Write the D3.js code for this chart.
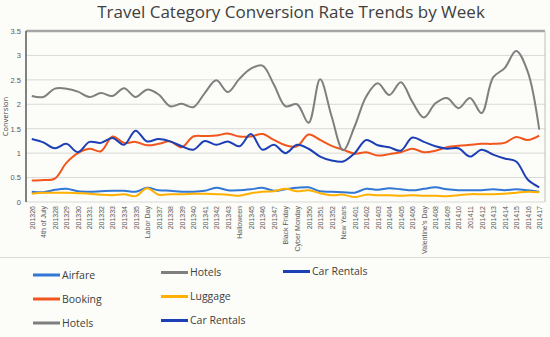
<!DOCTYPE html>
<html>
<head>
<meta charset="utf-8">
<script src="https://cdn.jsdelivr.net/npm/d3@7"></script>
<style>
  body { margin: 0; background: #fcfcf8; }
  svg { display: block; font-family: 'Open Sans', sans-serif; }
  .axis path, .axis line { stroke: none; }
  .axis text { fill: #595959; }
</style>
</head>
<body>
<svg width="550" height="337"></svg>
<script>
const weeks = ['201326', '4th of July', '201328', '201329', '201330', '201331', '201332', '201333',
  '201334', '201335', 'Labor Day', '201337', '201338', '201339', '201340', '201341', '201342',
  '201343', 'Halloween', '201345', '201346', '201347', 'Black Friday', 'Cyber Monday', '201350',
  '201351', '201352', 'New Years', '201401', '201402', '201403', '201404', '201405', '201406',
  "Valentine's Day", '201408', '201409', '201410', '201411', '201412', '201413', '201414',
  '201415', '201416', '201417'];

const airfare = [0.21, 0.20, 0.25, 0.27, 0.22, 0.21, 0.22, 0.23, 0.23, 0.21, 0.29, 0.24, 0.23,
  0.21, 0.21, 0.23, 0.29, 0.24, 0.24, 0.26, 0.29, 0.23, 0.26, 0.29, 0.30, 0.22, 0.21, 0.20,
  0.19, 0.27, 0.25, 0.28, 0.26, 0.24, 0.27, 0.30, 0.26, 0.24, 0.24, 0.24, 0.26, 0.24, 0.26,
  0.24, 0.21];
const booking = [0.44, 0.45, 0.48, 0.80, 1.00, 1.09, 1.04, 1.34, 1.21, 1.23, 1.16, 1.19, 1.24,
  1.12, 1.34, 1.35, 1.36, 1.40, 1.34, 1.34, 1.39, 1.27, 1.16, 1.14, 1.38, 1.27, 1.15, 1.07,
  0.99, 1.02, 0.95, 0.98, 1.02, 1.09, 1.02, 1.05, 1.12, 1.15, 1.17, 1.19, 1.19, 1.21, 1.33,
  1.27, 1.36];
const hotels = [2.17, 2.15, 2.32, 2.32, 2.26, 2.15, 2.23, 2.17, 2.33, 2.15, 2.30, 2.20, 1.96,
  2.01, 1.94, 2.23, 2.49, 2.25, 2.52, 2.73, 2.79, 2.40, 1.96, 2.00, 1.62, 2.51, 1.75, 1.06,
  1.55, 2.16, 2.43, 2.19, 2.45, 2.05, 1.73, 2.02, 2.13, 1.92, 2.13, 1.82, 2.55, 2.74, 3.09,
  2.67, 1.48];
const luggage = [0.17, 0.19, 0.19, 0.19, 0.18, 0.17, 0.15, 0.14, 0.16, 0.12, 0.28, 0.15, 0.16,
  0.16, 0.17, 0.17, 0.16, 0.15, 0.13, 0.18, 0.21, 0.22, 0.27, 0.22, 0.24, 0.18, 0.14, 0.15,
  0.10, 0.15, 0.14, 0.14, 0.13, 0.14, 0.13, 0.13, 0.12, 0.14, 0.16, 0.16, 0.16, 0.17, 0.19,
  0.21, 0.20];
const carRentals = [1.29, 1.22, 1.10, 1.19, 1.02, 1.23, 1.21, 1.31, 1.17, 1.46, 1.24, 1.29, 1.24,
  1.14, 1.07, 1.25, 1.17, 1.24, 1.14, 1.39, 1.07, 1.17, 1.00, 1.17, 1.09, 0.93, 0.85, 0.83,
  1.00, 1.27, 1.16, 1.12, 1.05, 1.32, 1.23, 1.14, 1.09, 1.10, 0.93, 1.07, 0.97, 0.89, 0.83,
  0.46, 0.30];

const yTicks = [0, 0.5, 1, 1.5, 2, 2.5, 3, 3.5];

const series = [
  { name: 'Airfare', values: airfare, color: '#3277d4' },
  { name: 'Booking', values: booking, color: '#f0561d' },
  { name: 'Hotels', values: hotels, color: '#7f7f7f' },
  { name: 'Luggage', values: luggage, color: '#ffb000' },
  { name: 'Car Rentals', values: carRentals, color: '#1c3fb5' }
];

// legend entries as shown (the original repeats two of them)
const legendItems = [
  { name: 'Airfare', col: 0, row: 0 },
  { name: 'Booking', col: 0, row: 1 },
  { name: 'Hotels', col: 0, row: 2 },
  { name: 'Hotels', col: 1, row: 0 },
  { name: 'Luggage', col: 1, row: 1 },
  { name: 'Car Rentals', col: 1, row: 2 },
  { name: 'Car Rentals', col: 2, row: 0 }
];

function drawChart() {
  const svg = d3.select('svg');
  const margin = { top: 31, right: 5, left: 26 };
  const plotBottom = 202;

  const x = d3.scalePoint().domain(weeks).range([margin.left, 550 - margin.right]).padding(0.5);
  const y = d3.scaleLinear().domain([0, 3.5]).range([plotBottom, margin.top]);

  // title
  svg.append('text')
    .attr('x', 291)
    .attr('y', 18)
    .attr('text-anchor', 'middle')
    .attr('font-size', 17)
    .attr('fill', '#404040')
    .text('Travel Category Conversion Rate Trends by Week');

  // gridlines
  svg.append('g')
    .selectAll('line')
    .data(yTicks)
    .enter()
    .append('line')
    .attr('x1', margin.left)
    .attr('x2', 550 - margin.right)
    .attr('y1', (d) => y(d))
    .attr('y2', (d) => y(d))
    .attr('stroke', '#d9d9d9')
    .attr('stroke-width', 1);

  // frame: top, right, left axis
  svg.append('line')
    .attr('x1', margin.left).attr('x2', 550 - margin.right)
    .attr('y1', y(3.5)).attr('y2', y(3.5))
    .attr('stroke', '#a6a6a6').attr('stroke-width', 2.5);
  svg.append('line')
    .attr('x1', 550 - margin.right).attr('x2', 550 - margin.right)
    .attr('y1', y(3.5)).attr('y2', y(0))
    .attr('stroke', '#bfbfbf').attr('stroke-width', 1);
  svg.append('line')
    .attr('x1', margin.left).attr('x2', margin.left)
    .attr('y1', y(3.5)).attr('y2', y(0))
    .attr('stroke', '#595959').attr('stroke-width', 1.5);

  // y axis
  svg.append('g')
    .attr('class', 'axis axis-y')
    .attr('transform', 'translate(' + margin.left + ',0)')
    .call(d3.axisLeft(y).tickValues(yTicks).tickFormat(d3.format('~g')).tickSize(0).tickPadding(5))
    .selectAll('text')
    .attr('font-size', 7.5);

  svg.append('text')
    .attr('transform', 'translate(8,' + (y(1.75)) + ') rotate(-90)')
    .attr('text-anchor', 'middle')
    .attr('font-size', 7.5)
    .attr('fill', '#404040')
    .text('Conversion');

  // x axis
  svg.append('g')
    .attr('class', 'axis axis-x')
    .attr('transform', 'translate(0,' + plotBottom + ')')
    .call(d3.axisBottom(x).tickSize(0).tickPadding(0))
    .selectAll('text')
    .attr('font-size', 7)
    .attr('fill', '#404040')
    .attr('text-anchor', 'end')
    .attr('transform', 'rotate(-90)')
    .attr('x', -4)
    .attr('y', 0)
    .attr('dy', '0.35em');

  // separator under labels
  svg.append('line')
    .attr('x1', 0).attr('x2', 550)
    .attr('y1', 257.5).attr('y2', 257.5)
    .attr('stroke', '#d9d9d9');

  // lines
  const line = d3.line()
    .x((d, i) => x(weeks[i]))
    .y((d) => y(d))
    .curve(d3.curveCatmullRom.alpha(0.5));

  svg.append('g')
    .selectAll('path')
    .data(series)
    .enter()
    .append('path')
    .attr('d', (d) => line(d.values))
    .attr('fill', 'none')
    .attr('stroke', (d) => d.color)
    .attr('stroke-width', 2);

  // legend
  const colX = [33, 161, 283];
  const rowY = [[275, 299, 323], [272.5, 296.5, 320.5], [271.5]];
  const colorOf = (name) => series.find((s) => s.name === name).color;

  const items = svg.append('g')
    .selectAll('.legend')
    .data(legendItems)
    .enter()
    .append('g')
    .attr('class', 'legend')
    .attr('transform', (d) => 'translate(' + colX[d.col] + ',' + rowY[d.col][d.row] + ')');

  items.append('line')
    .attr('x1', 0).attr('x2', 27)
    .attr('stroke', (d) => colorOf(d.name))
    .attr('stroke-width', 3);

  items.append('text')
    .attr('x', 29)
    .attr('dy', '0.35em')
    .attr('font-size', 10.5)
    .attr('fill', '#404040')
    .text((d) => d.name);
}

drawChart();
</script>
</body>
</html>
